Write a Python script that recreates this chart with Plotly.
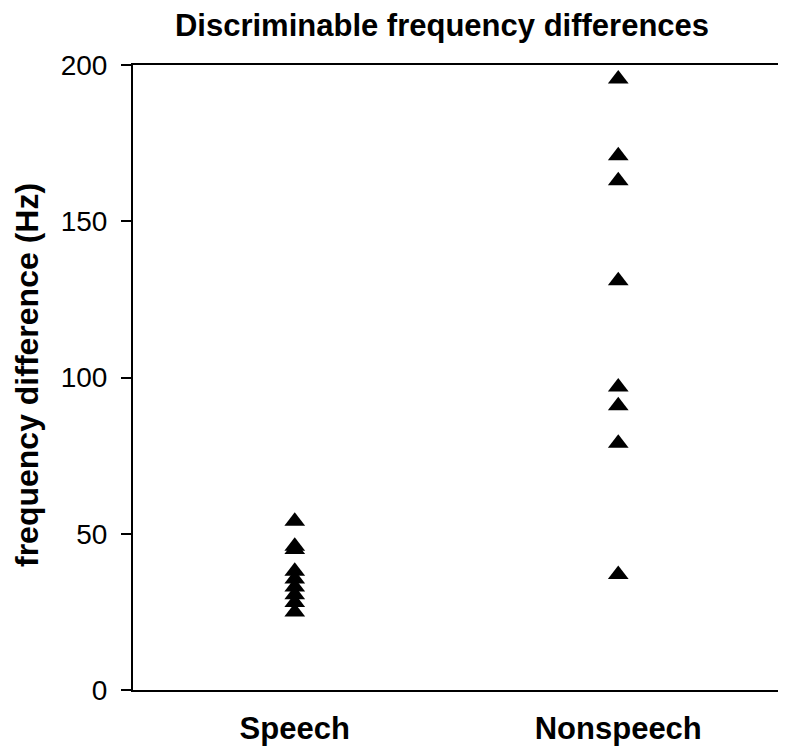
import plotly.graph_objects as go

categories = ["Speech", "Nonspeech"]
speech_values = [54, 46, 45, 38, 35.5, 33, 30.5, 28, 25]
nonspeech_values = [195.5, 171, 163, 131, 97, 91, 79, 37]
y_ticks = [0, 50, 100, 150, 200]

FONT = "Liberation Sans, Arial, Helvetica, sans-serif"

fig = go.Figure()
fig.add_trace(go.Scatter(
    x=[categories[0]] * len(speech_values), y=speech_values,
    mode="markers",
    marker=dict(symbol="triangle-up", size=18, color="black"),
    showlegend=False,
))
fig.add_trace(go.Scatter(
    x=[categories[1]] * len(nonspeech_values), y=nonspeech_values,
    mode="markers",
    marker=dict(symbol="triangle-up", size=18, color="black"),
    showlegend=False,
))

# page body adds an 8px offset; keep figure inside the 786x748 window
OFF = 8
W, H = 776, 739
ml, mt = 133 - OFF, 65 - OFF
mr = W - (780 - OFF)
mb = H - (690 - OFF)

fig.update_layout(
    width=W, height=H,
    margin=dict(l=ml, r=mr, t=mt, b=mb, autoexpand=False),
    paper_bgcolor="white", plot_bgcolor="white",
    font=dict(family=FONT, color="black"),
    title=dict(
        text="<b>Discriminable frequency differences</b>",
        font=dict(size=31, family=FONT, color="black"),
        x=(442 - OFF) / W, xref="container", xanchor="center",
        y=1 - (25 - OFF) / H, yref="container", yanchor="middle",
    ),
    xaxis=dict(
        type="category", categoryorder="array", categoryarray=categories,
        range=[-0.5, 1.5], automargin=False,
        showgrid=False, zeroline=False,
        showline=True, linecolor="black", linewidth=2, mirror=True,
        ticks="", tickfont=dict(size=31, family=FONT, color="black"),
        tickvals=categories,
        ticktext=["<b>" + c + "</b>" for c in categories],
        ticklabelstandoff=10,
    ),
    yaxis=dict(
        range=[0, 200], automargin=False,
        tickvals=y_ticks,
        showgrid=False, zeroline=False,
        showline=True, linecolor="black", linewidth=2, mirror=True,
        ticks="outside", ticklen=10, tickwidth=2, tickcolor="black",
        tickfont=dict(size=28, family=FONT, color="black"),
        ticklabelstandoff=8,
    ),
    annotations=[dict(
        text="<b>frequency difference (Hz)</b>",
        textangle=-90,
        xref="paper", yref="paper",
        x=(27 - 133) / (780 - 133), y=(690 - 375) / (690 - 65),
        xanchor="center", yanchor="middle",
        showarrow=False,
        font=dict(size=32, family=FONT, color="black"),
    )],
)

fig.write_html("out.html")
